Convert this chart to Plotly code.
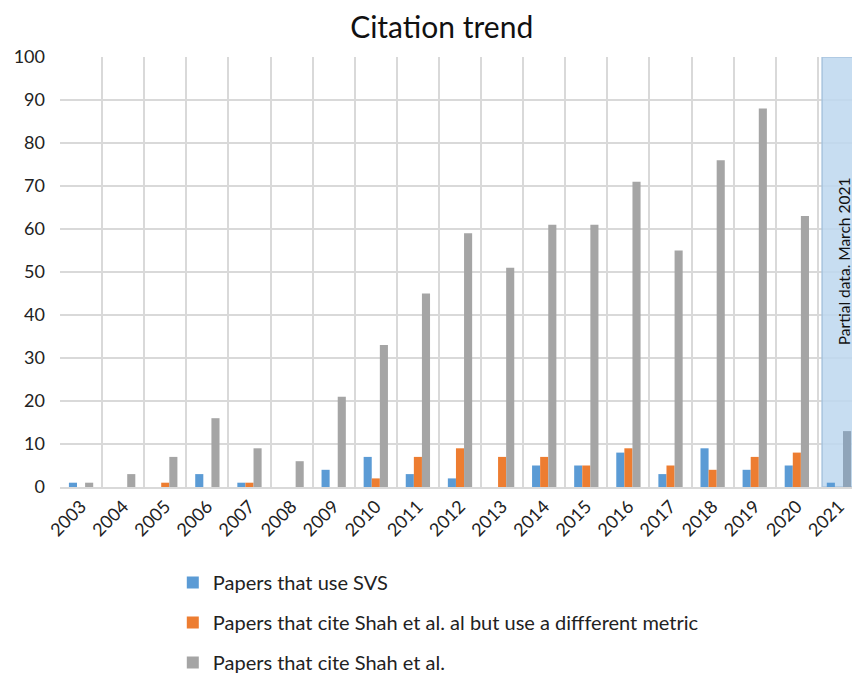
import plotly.graph_objects as go

years = [str(y) for y in range(2003, 2022)]
svs = [1, 0, 0, 3, 1, 0, 4, 7, 3, 2, 0, 5, 5, 8, 3, 9, 4, 5, 1]
diff_metric = [0, 0, 1, 0, 1, 0, 0, 2, 7, 9, 7, 7, 5, 9, 5, 4, 7, 8, 0]
cite_shah = [1, 3, 7, 16, 9, 6, 21, 33, 45, 59, 51, 61, 61, 71, 55, 76, 88, 63, 13]
partial_year = "2021"

names = ["Papers that use SVS",
         "Papers that cite Shah et al. al but use a diffferent metric",
         "Papers that cite Shah et al."]
colors = ["#5B9BD5", "#ED7D31", "#A5A5A5"]

fig = go.Figure()
for i, (vals, nm, c) in enumerate(zip([svs, diff_metric, cite_shah], names, colors)):
    if i == 2:
        mc = [("#8FA4B9" if y == partial_year else c) for y in years]
    else:
        mc = c
    fig.add_trace(go.Bar(x=years, y=vals, name=nm, marker=dict(color=mc, line_width=0),
                         legendgroup=str(i)))

pidx = years.index(partial_year)
font_family = "Lato, 'Open Sans', sans-serif"
fig.update_layout(
    width=852, height=669,
    margin=dict(l=52, r=0, t=49, b=190),
    paper_bgcolor="white", plot_bgcolor="white",
    barmode="group", bargap=0.423, bargroupgap=0,
    title=dict(text="Citation trend", x=0.509, xanchor="center", y=0.9716, yanchor="middle",
               font=dict(size=30, color="#111", family=font_family)),
    font=dict(family=font_family, color="#222"),
    xaxis=dict(type="category", tickson="boundaries", showgrid=True, gridcolor="#D9D9D9",
               gridwidth=1.5, tickangle=-45, tickfont=dict(size=18), ticks="",
               showline=True, linecolor="#D9D9D9", linewidth=2,
               range=[-0.5, len(years) - 0.5], automargin=False),
    yaxis=dict(range=[0, 100], dtick=10, showgrid=True, gridcolor="#D9D9D9", gridwidth=1.5,
               tickfont=dict(size=18), ticks="", zeroline=False, showline=False,
               ticklabelstandoff=14, automargin=False),
    legend=dict(x=0.141, y=0.1705, xref="paper", yref="container",
                xanchor="left", yanchor="top", orientation="v",
                tracegroupgap=11, font=dict(size=20), itemwidth=30,
                bgcolor="rgba(0,0,0,0)"),
    showlegend=True,
)

fig.add_shape(type="rect", xref="x", yref="y", x0=pidx - 0.4, x1=pidx + 0.6, y0=0, y1=100,
              fillcolor="rgba(189,215,238,0.85)", line=dict(color="#A9C4DE", width=1.5),
              layer="between")
fig.add_annotation(x=pidx, y=52.5, xref="x", yref="y", xshift=5,
                   text="Partial data. March 2021",
                   textangle=-90, showarrow=False, font=dict(size=15.5, color="#111"))

fig.write_html("out.html")
